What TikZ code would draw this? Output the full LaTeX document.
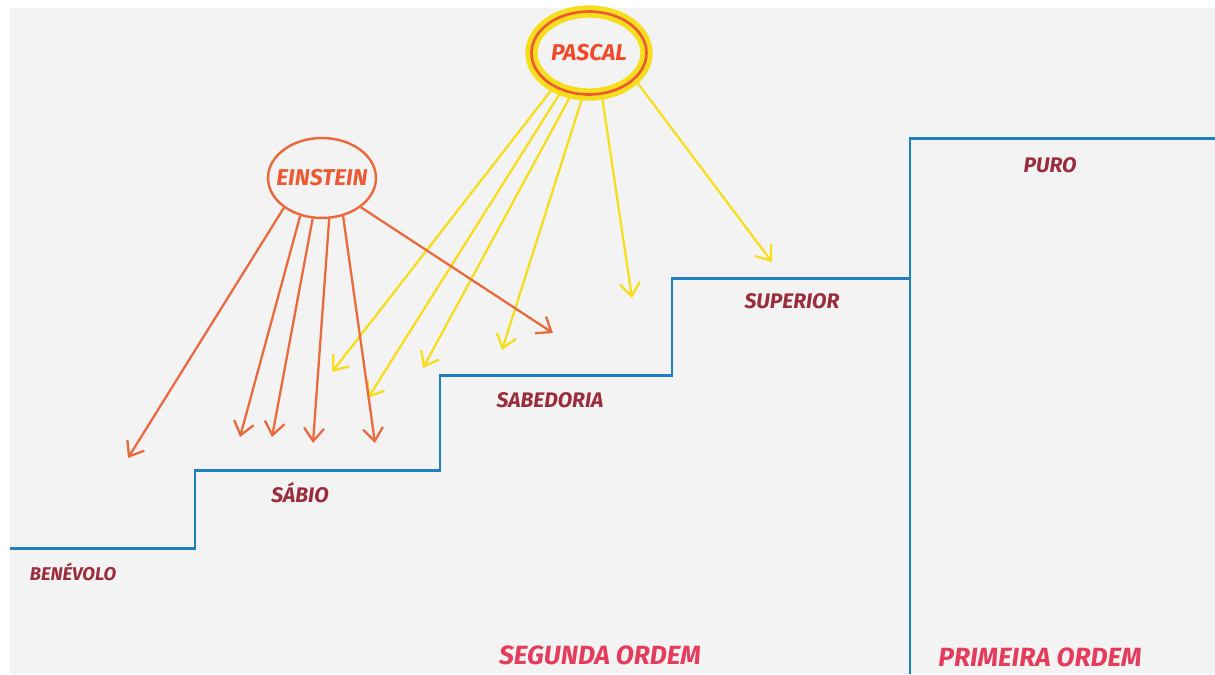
\documentclass[tikz,border=0pt]{standalone}
\usepackage{fontspec}
\setmainfont{Fira Sans}
\usepackage{xcolor}
\usepackage{tikz}
\usetikzlibrary{shapes.geometric, arrows.meta, positioning}
\definecolor{azulesc}{HTML}{1F80C0}
\definecolor{laranja}{HTML}{E96A3C}
\definecolor{amarelo}{HTML}{F7DE1C}
\definecolor{vinho}{HTML}{9B2C3C}
\definecolor{rosa}{HTML}{E53C5C}
\definecolor{papel}{HTML}{F3F3F3}

\begin{document}
\begin{tikzpicture}[
    x=0.02cm, y=-0.02cm,
    escada/.style={azulesc, line width=1.7pt},
    degrau/.style={text=vinho, font=\fontsize{12}{14}\selectfont\itshape\bfseries, inner sep=0pt},
    ordem/.style={text=rosa, font=\fontsize{15}{18}\selectfont\itshape\bfseries, inner sep=0pt},
    balaoE/.style={ellipse, draw=laranja, line width=1.4pt, minimum width=2.16cm, minimum height=1.6cm},
    balaoP/.style={ellipse, draw=laranja!85!red, line width=1.5pt, preaction={draw=amarelo, line width=7pt}, minimum width=2.3cm, minimum height=1.66cm},
    nome/.style={font=\fontsize{13}{15}\selectfont\itshape\bfseries},
    raioE/.style={-{Straight Barb[length=2.6mm, width=4mm]}, line width=1.3pt, laranja},
    raioP/.style={-{Straight Barb[length=2.6mm, width=4mm]}, line width=1.3pt, amarelo}
]
\useasboundingbox (0,0) rectangle (1215,674);
\fill[white] (0,0) rectangle (1215,674);
\fill[papel] (10,8) rectangle (1215,674);

% escada
\coordinate (b0) at (10,548);
\coordinate (b2) at (195,470);
\coordinate (b4) at (440,375);
\coordinate (b6) at (672,278);
\coordinate (b7) at (910,278);
\coordinate (topo) at (1215,138);
\coordinate (chao) at (910,674);

\draw[escada] (b0) -| (b2) -| (b4) -| (b6) -- (b7);
\draw[escada] (chao) |- (topo);

\node (benevolo) [degrau, font=\fontsize{10.5}{12}\selectfont\itshape\bfseries] at (73,572) {BENÉVOLO};
\node (sabio) [degrau] at (300,493) {SÁBIO};
\node (sabedoria) [degrau] at (550,400) {SABEDORIA};
\node (superior) [degrau] at (792,301) {SUPERIOR};
\node (puro) [degrau] at (1050,165) {PURO};

\node (segunda) [ordem] at (600,655) {SEGUNDA ORDEM};
\node (primeira) [ordem] at (1040,657) {PRIMEIRA ORDEM};

% baloes
\node (einstein) [balaoE, label={[nome, text=laranja!85!red]center:EINSTEIN}] at (322,178) {};
\node (pascal) [balaoP, label={[nome, text=laranja!70!red]center:PASCAL}] at (589,53) {};

% pontas das setas
\coordinate (e1) at (128,458);
\coordinate (e2) at (240,437);
\coordinate (e3) at (272,437);
\coordinate (e4) at (313,443);
\coordinate (e5) at (375,443);
\coordinate (e6) at (553,333);
\coordinate (p1) at (332,372);
\coordinate (p2) at (368,398);
\coordinate (p3) at (423,368);
\coordinate (p4) at (502,350);
\coordinate (p5) at (632,298);
\coordinate (p6) at (772,262);

\draw [raioP] (pascal.224) -- (p1);
\draw [raioP] (pascal.234) -- (p2);
\draw [raioP] (pascal.247) -- (p3);
\draw [raioP] (pascal.262) -- (p4);
\draw [raioP] (pascal.287) -- (p5);
\draw [raioP] (pascal.330) -- (p6);

\draw [raioE] (einstein.218) -- (e1);
\draw [raioE] (einstein.240) -- (e2);
\draw [raioE] (einstein.257) -- (e3);
\draw [raioE] (einstein.280) -- (e4);
\draw [raioE] (einstein.299) -- (e5);
\draw [raioE] (einstein.323) -- (e6);

\end{tikzpicture}
\end{document}
